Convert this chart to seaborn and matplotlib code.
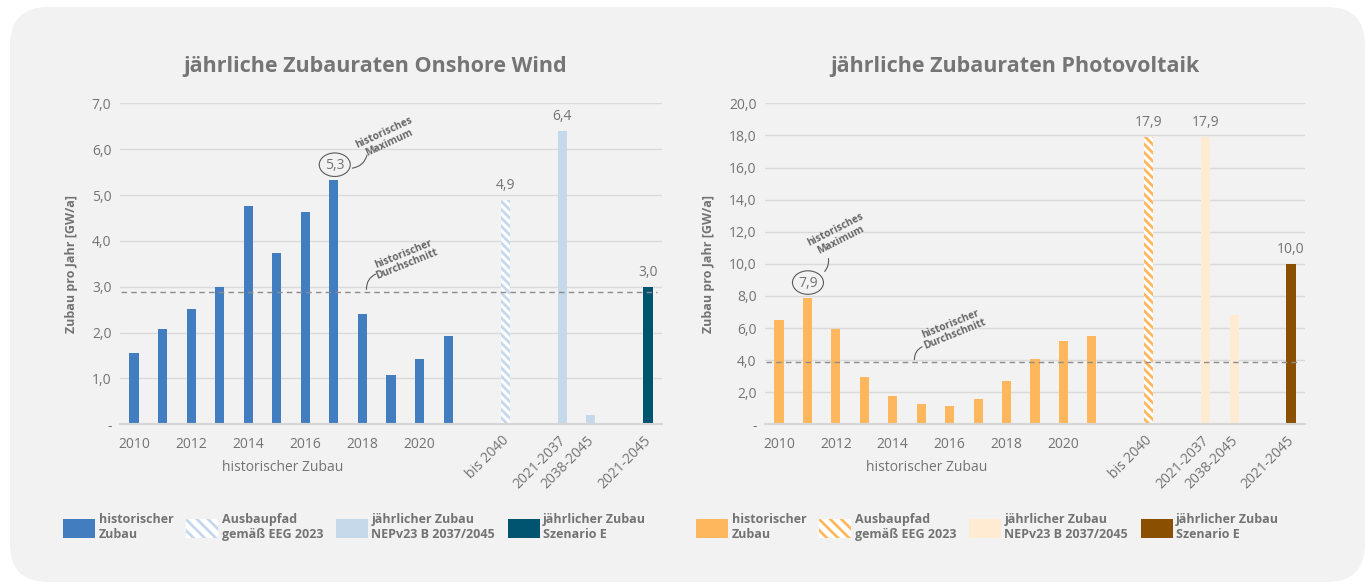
import numpy as np
import matplotlib.pyplot as plt
import pandas as pd
import seaborn as sns
from matplotlib.patches import Patch, FancyBboxPatch, Ellipse
import matplotlib.transforms as mtransforms

# categories (blank slots keep the gaps between groups)
years = [str(y) for y in range(2010, 2022)]
scen_labels = ['bis 2040', '2021-2037', '2038-2045', '2021-2045']
order = years + [' ', 'bis 2040', '  ', '2021-2037', '2038-2045', '   ', '2021-2045']

kinds = ['historischer\nZubau', 'Ausbaupfad\ngemäß EEG 2023',
         'jährlicher Zubau\nNEPv23 B 2037/2045', 'jährlicher Zubau\nSzenario E']
scen_kind = [1, 2, 2, 3]
scen_shown = [True, True, False, True]

# onshore wind [GW/a]
wind_hist = [1.55, 2.08, 2.51, 3.0, 4.75, 3.73, 4.64, 5.33, 2.41, 1.08, 1.43, 1.92]
wind_scen = [4.9, 6.4, 0.2, 3.0]
wind_avg = 2.88
wind_colors = ['#427ebf', '#c5d8ec', '#c6d9eb', '#005470']
wind_yticks = [0, 1, 2, 3, 4, 5, 6, 7]

# photovoltaik [GW/a]
pv_hist = [6.5, 7.9, 5.96, 2.97, 1.77, 1.29, 1.16, 1.6, 2.68, 4.05, 5.17, 5.5]
pv_scen = [17.9, 17.9, 6.8, 10.0]
pv_avg = 3.86
pv_colors = ['#ffb75e', '#ffb75e', '#feebd2', '#8b4f00']
pv_yticks = [0, 2, 4, 6, 8, 10, 12, 14, 16, 18, 20]

TXT = '#737373'
sns.set_theme(style='white')
plt.rcParams['font.family'] = ['Open Sans', 'DejaVu Sans']
plt.rcParams['hatch.linewidth'] = 2.0


def fmt(v):
    return f'{v:.1f}'.replace('.', ',')


def chart(ax, hist, scen, avg, colors, yticks, title, title_x,
          max_pos, max_txt, max_line, max_rad, avg_txt, avg_line, rot_max, rot_avg):
    fig = ax.figure
    df = pd.DataFrame({
        'cat': years + scen_labels,
        'val': hist + scen,
        'kind': [kinds[0]] * len(years) + [kinds[k] for k in scen_kind],
    })
    sns.barplot(data=df, x='cat', y='val', hue='kind', order=order, hue_order=kinds,
                palette=colors, dodge=False, width=0.32, saturation=1,
                linewidth=0, legend=False, ax=ax)
    for p in ax.containers[1]:
        p.set_facecolor('white')
        p.set_edgecolor(colors[1])
        p.set_hatch('\\\\\\\\')
        p.set_linewidth(0)

    ax.set_facecolor('none')
    ax.set_xlim(-0.5, len(order) - 0.5)
    ax.set_ylim(0, yticks[-1])
    ax.set_yticks(yticks)
    ax.set_yticklabels(['-'] + [fmt(v) for v in yticks[1:]])
    ax.yaxis.grid(True, color='#dadada', lw=1)
    ax.set_axisbelow(True)
    for s in ['top', 'right', 'left']:
        ax.spines[s].set_visible(False)
    ax.spines['bottom'].set_color('#d6d6d6')
    ax.spines['bottom'].set_linewidth(1.5)
    ax.tick_params(length=0, labelsize=10, labelcolor=TXT)
    ax.tick_params(axis='x', pad=9)
    ax.tick_params(axis='y', pad=6)

    xt = []
    for c in order:
        if c in years:
            xt.append(c if int(c) % 2 == 0 else '')
        else:
            xt.append(c.strip())
    ax.set_xticks(range(len(order)))
    ax.set_xticklabels(xt)
    off = mtransforms.ScaledTranslation(1 / 72, -1 / 72, fig.dpi_scale_trans)
    for lab in ax.get_xticklabels():
        if lab.get_text() in scen_labels:
            lab.set_rotation(45)
            lab.set_ha('right')
            lab.set_va('center')
            lab.set_rotation_mode('anchor')
            lab.set_transform(lab.get_transform() + off)

    ax.set_xlabel('')
    ax.set_ylabel('Zubau pro Jahr [GW/a]', fontsize=9, fontweight='bold', color=TXT, labelpad=10)
    ax.text(5.2, -0.136, 'historischer Zubau', transform=ax.get_xaxis_transform(),
            ha='center', va='center', fontsize=10, color=TXT)

    # historic average
    ax.axhline(avg, color='#8c8c8c', lw=1, ls=(0, (4, 3)), xmin=0.003, xmax=0.99)

    # value labels
    for lab, v, show in zip(scen_labels, scen, scen_shown):
        if show:
            ax.annotate(fmt(v), (order.index(lab), v), xytext=(0, 5), textcoords='offset points',
                        ha='center', va='bottom', fontsize=10, color=TXT)

    imax = int(np.argmax(hist))
    ax.text(max_pos[0], max_pos[1], fmt(hist[imax]), ha='center', va='center', fontsize=10,
            color=TXT)
    ell_tr = fig.dpi_scale_trans + mtransforms.ScaledTranslation(max_pos[0], max_pos[1], ax.transData)
    ax.add_patch(Ellipse((0, 0.005), 0.31, 0.235, transform=ell_tr, fc='none',
                         ec='#5a5a5a', lw=0.8, clip_on=False))
    ax.annotate('', xy=max_line[1], xytext=max_line[0],
                arrowprops=dict(arrowstyle='-', color='#5a5a5a', lw=0.8,
                                connectionstyle=f'arc3,rad={max_rad}'))
    ax.text(max_txt[0], max_txt[1], 'historisches\nMaximum', rotation=rot_max,
            rotation_mode='anchor', ha='center', va='center', fontsize=7.3,
            fontweight='bold', color='#666666', linespacing=1.0)
    ax.annotate('', xy=avg_line[1], xytext=avg_line[0],
                arrowprops=dict(arrowstyle='-', color='#5a5a5a', lw=0.8,
                                connectionstyle='arc3,rad=-0.4'))
    ax.text(avg_txt[0], avg_txt[1], 'historischer\nDurchschnitt', rotation=rot_avg,
            rotation_mode='anchor', ha='center', va='center', fontsize=7.3,
            fontweight='bold', color='#666666', linespacing=1.0)

    fig.text(title_x, 0.887, title, ha='center', va='center', fontsize=15.5,
             fontweight='bold', color='#757575')

    handles = [Patch(facecolor=colors[0], lw=0),
               Patch(facecolor='white', edgecolor=colors[1], hatch='\\\\\\', lw=0),
               Patch(facecolor=colors[2], lw=0),
               Patch(facecolor=colors[3], lw=0)]
    return handles


fig = plt.figure(figsize=(13.7, 5.85), dpi=100)
fig.patch.set_facecolor('white')
bg = FancyBboxPatch((10, 3), 1355, 575, boxstyle='round,pad=0,rounding_size=38',
                    fc='#f2f2f2', ec='none', transform=mtransforms.IdentityTransform(),
                    zorder=-10)
fig.add_artist(bg)

ax1 = fig.add_axes([0.0874, 0.2747, 0.396, 0.5487])
ax2 = fig.add_axes([0.5582, 0.2747, 0.3945, 0.5487])

h1 = chart(ax1, wind_hist, wind_scen, wind_avg, wind_colors, wind_yticks,
           'jährliche Zubauraten Onshore Wind', 0.2737,
           max_pos=(7.03, 5.65), max_txt=(8.85, 6.25), max_line=((7.55, 5.58), (8.18, 5.93)),
           max_rad=0.4, avg_txt=(9.5, 3.6), avg_line=((8.15, 2.88), (8.55, 3.3)),
           rot_max=25, rot_avg=22)
h2 = chart(ax2, pv_hist, pv_scen, pv_avg, pv_colors, pv_yticks,
           'jährliche Zubauraten Photovoltaik', 0.741,
           max_pos=(1.02, 8.8), max_txt=(2.07, 11.8), max_line=((1.54, 9.4), (1.72, 10.5)),
           max_rad=0.3, avg_txt=(6.1, 5.9), avg_line=((4.77, 3.86), (5.12, 4.9)),
           rot_max=27, rot_avg=22)

for ax, h, x0 in [(ax1, h1, 52 / 1370), (ax2, h2, 685 / 1370)]:
    leg = fig.legend(h, kinds, ncol=4, loc='upper left', bbox_to_anchor=(x0, 1 - 502 / 585),
                     frameon=False, fontsize=9, handlelength=2.55, handleheight=1.95,
                     handletextpad=0.3, columnspacing=1.0)
    for t in leg.get_texts():
        t.set_color(TXT)
        t.set_fontweight('bold')

fig.savefig('out.png', dpi=100, facecolor='white')
